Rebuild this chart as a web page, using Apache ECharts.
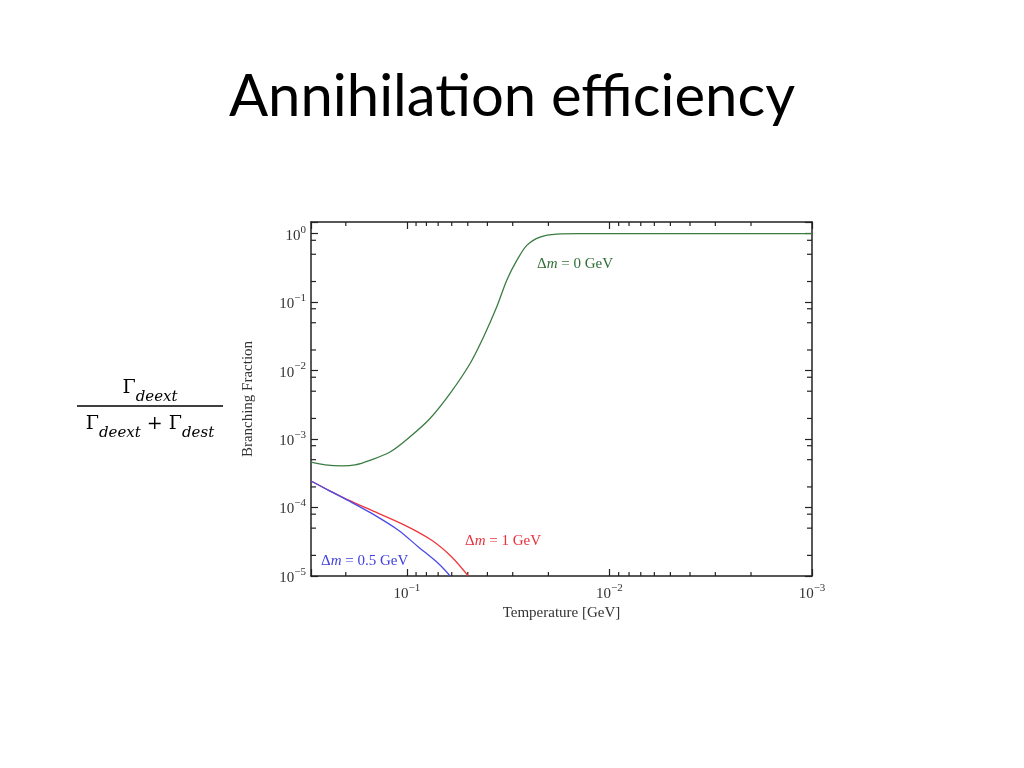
<!DOCTYPE html>
<html>
<head>
<meta charset="utf-8">
<script src="https://cdn.jsdelivr.net/npm/echarts@6/dist/echarts.min.js"></script>
<style>
  html, body { margin: 0; padding: 0; background: #fff; }
  #main { width: 1024px; height: 768px; }
</style>
</head>
<body>
<div id="main"></div>
<script>
// Temperature [GeV] / branching fraction
var greenT = [0.297, 0.253, 0.2085, 0.18, 0.152, 0.121, 0.0964, 0.0768, 0.0611, 0.0487, 0.0418, 0.036, 0.0321, 0.0286, 0.0255, 0.022, 0.0182, 0.014, 0.01, 0.001];
var greenB = [4.6e-4, 4.2e-4, 4.05e-4, 4.2e-4, 4.9e-4, 6.46e-4, 1.08e-3, 2.0e-3, 4.65e-3, 0.0127, 0.031, 0.0846, 0.209, 0.41, 0.68, 0.892, 0.985, 1.0, 1.0, 1.0];

var redT = [0.297, 0.239, 0.194, 0.149, 0.102, 0.0753, 0.060, 0.0497];
var redB = [2.44e-4, 1.74e-4, 1.28e-4, 9.1e-5, 5.5e-5, 3.33e-5, 1.9e-5, 1.0e-5];

var blueT = [0.297, 0.239, 0.194, 0.149, 0.110, 0.0877, 0.0698, 0.0611];
var blueB = [2.44e-4, 1.74e-4, 1.26e-4, 8.2e-5, 4.66e-5, 2.66e-5, 1.52e-5, 1.0e-5];

// x axis runs from high to low temperature (inverse)
var xLow = 0.001, xHigh = 0.297;
var yMin = 1e-5, yMax = 1.48;

// minor tick positions
var xMinor = [0.2, 0.09, 0.08, 0.07, 0.06, 0.05, 0.04, 0.03, 0.02,
              0.009, 0.008, 0.007, 0.006, 0.005, 0.004, 0.003, 0.002];
var yMinor = [0.8, 0.5, 0.2, 0.08, 0.05, 0.02, 0.008, 0.005, 0.002,
              8e-4, 5e-4, 2e-4, 8e-5, 5e-5, 2e-5];

var textColor = '#333';
var serif = 'Liberation Serif';

function pairs(xs, ys) {
  return xs.map(function (x, i) { return [x, ys[i]]; });
}

function powLabel(value) {
  var l = Math.log(value) / Math.LN10;
  var e = Math.round(l);
  if (Math.abs(l - e) > 1e-6) return '';
  return '{b|10}{s|' + String(e).replace('-', '\u2212') + '}';
}

var labelRich = {
  b: { fontFamily: serif, fontSize: 15, color: textColor, lineHeight: 19, verticalAlign: 'bottom' },
  s: { fontFamily: serif, fontSize: 11, color: textColor, lineHeight: 11, verticalAlign: 'top' }
};

function axisBase() {
  return {
    type: 'log',
    logBase: 10,
    axisLine: { show: true, lineStyle: { color: '#222', width: 1.5 } },
    axisTick: { show: true, inside: true, length: 7, lineStyle: { color: '#222', width: 1.2 } },
    splitLine: { show: false }
  };
}

var chart = echarts.init(document.getElementById('main'));

var option = {
  backgroundColor: '#fff',
  animation: false,
  title: {
    text: 'Annihilation efficiency',
    left: 'center',
    top: 63,
    textStyle: { fontFamily: 'Lato', fontSize: 58, fontWeight: 'normal', color: '#000' }
  },
  grid: { left: 311, right: 212, top: 222, bottom: 192 },
  xAxis: [
    Object.assign(axisBase(), {
      position: 'bottom', inverse: true, min: xLow, max: xHigh, splitNumber: 3,
      name: 'Temperature [GeV]', nameLocation: 'middle', nameGap: 30,
      nameTextStyle: { fontFamily: serif, fontSize: 15, color: textColor },
      axisLabel: { margin: 7, formatter: powLabel, rich: labelRich }
    }),
    Object.assign(axisBase(), {
      position: 'top', inverse: true, min: xLow, max: xHigh, splitNumber: 3,
      axisLabel: { show: false }
    })
  ],
  yAxis: [
    Object.assign(axisBase(), {
      position: 'left', min: yMin, max: yMax, splitNumber: 5,
      name: 'Branching Fraction', nameLocation: 'middle', nameGap: 55, nameRotate: 90,
      nameTextStyle: { fontFamily: serif, fontSize: 15, color: textColor },
      axisLabel: { margin: 5, formatter: powLabel, rich: labelRich }
    }),
    Object.assign(axisBase(), {
      position: 'right', min: yMin, max: yMax, splitNumber: 5,
      axisLabel: { show: false }
    })
  ],
  graphic: [
    {
      type: 'text', left: 537, top: 257,
      style: { text: '\u0394{i|m} = 0 GeV', fontFamily: serif, fontSize: 15, fill: '#2e6e34',
        rich: { i: { fontFamily: serif, fontStyle: 'italic', fontSize: 15, color: '#2e6e34' } } }
    },
    {
      type: 'text', left: 465, top: 534,
      style: { text: '\u0394{i|m} = 1 GeV', fontFamily: serif, fontSize: 15, fill: '#e8303a',
        rich: { i: { fontFamily: serif, fontStyle: 'italic', fontSize: 15, color: '#e8303a' } } }
    },
    {
      type: 'text', left: 321, top: 554,
      style: { text: '\u0394{i|m} = 0.5 GeV', fontFamily: serif, fontSize: 15, fill: '#4040e0',
        rich: { i: { fontFamily: serif, fontStyle: 'italic', fontSize: 15, color: '#4040e0' } } }
    },
    // fraction on the left
    {
      type: 'text', x: 150, y: 392,
      style: { text: '{g|\u0393}{d|deext}', align: 'center', verticalAlign: 'middle',
        rich: {
          g: { fontFamily: 'DejaVu Serif', fontSize: 19, color: '#000', lineHeight: 26, verticalAlign: 'top' },
          d: { fontFamily: 'DejaVu Serif', fontStyle: 'italic', fontSize: 15, color: '#000', lineHeight: 15, verticalAlign: 'bottom' }
        } }
    },
    {
      type: 'line', shape: { x1: 77, y1: 406, x2: 223, y2: 406 },
      style: { stroke: '#000', lineWidth: 1.3 }
    },
    {
      type: 'text', x: 150, y: 428,
      style: { text: '{g|\u0393}{d|deext}{g| + \u0393}{d|dest}', align: 'center', verticalAlign: 'middle',
        rich: {
          g: { fontFamily: 'DejaVu Serif', fontSize: 19, color: '#000', lineHeight: 26, verticalAlign: 'top' },
          d: { fontFamily: 'DejaVu Serif', fontStyle: 'italic', fontSize: 15, color: '#000', lineHeight: 15, verticalAlign: 'bottom' }
        } }
    }
  ],
  series: [
    {
      name: 'dm0', type: 'line', data: pairs(greenT, greenB), smooth: 0.3,
      showSymbol: false, lineStyle: { color: '#3a7d42', width: 1.3 }
    },
    {
      name: 'dm1', type: 'line', data: pairs(redT, redB), smooth: 0.3,
      showSymbol: false, lineStyle: { color: '#f0363c', width: 1.3 }
    },
    {
      name: 'dm05', type: 'line', data: pairs(blueT, blueB), smooth: 0.3,
      showSymbol: false, lineStyle: { color: '#4a4ae8', width: 1.3 }
    },
    {
      // minor ticks on bottom and top
      type: 'custom', silent: true, clip: false,
      data: xMinor.map(function (v) { return [v, yMin]; }),
      renderItem: function (params, api) {
        var v = api.value(0);
        var b = api.coord([v, yMin]);
        var t = api.coord([v, yMax]);
        var st = { stroke: '#222', lineWidth: 1.2 };
        return { type: 'group', children: [
          { type: 'line', shape: { x1: b[0], y1: b[1], x2: b[0], y2: b[1] - 4 }, style: st },
          { type: 'line', shape: { x1: t[0], y1: t[1], x2: t[0], y2: t[1] + 4 }, style: st }
        ] };
      }
    },
    {
      // minor ticks on left and right
      type: 'custom', silent: true, clip: false,
      data: yMinor.map(function (v) { return [xHigh, v]; }),
      renderItem: function (params, api) {
        var v = api.value(1);
        var l = api.coord([xHigh, v]);
        var r = api.coord([xLow, v]);
        var st = { stroke: '#222', lineWidth: 1.2 };
        return { type: 'group', children: [
          { type: 'line', shape: { x1: l[0], y1: l[1], x2: l[0] + 5, y2: l[1] }, style: st },
          { type: 'line', shape: { x1: r[0], y1: r[1], x2: r[0] - 5, y2: r[1] }, style: st }
        ] };
      }
    }
  ]
};

chart.setOption(option);
</script>
</body>
</html>
